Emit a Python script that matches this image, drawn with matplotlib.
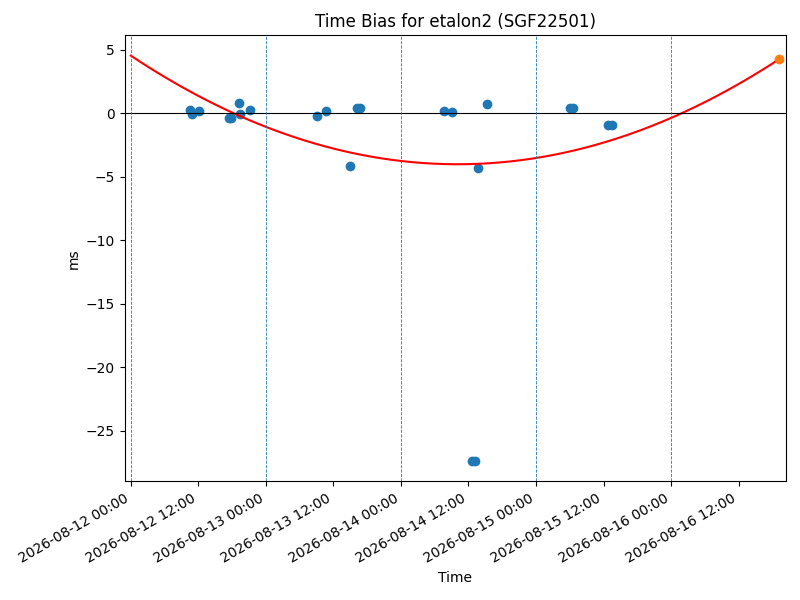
import numpy as np
import pandas as pd
import matplotlib
matplotlib.use("Agg")
import matplotlib.pyplot as plt
import matplotlib.dates as mdates

# observed time bias (ms)
obs_times = [
    "2026-08-12 10:26", "2026-08-12 10:54", "2026-08-12 12:09",
    "2026-08-12 17:28", "2026-08-12 17:46", "2026-08-12 19:12",
    "2026-08-12 19:26", "2026-08-12 21:13",
    "2026-08-13 09:07", "2026-08-13 10:39", "2026-08-13 14:56",
    "2026-08-13 16:13", "2026-08-13 16:48",
    "2026-08-14 07:39", "2026-08-14 09:07", "2026-08-14 12:40",
    "2026-08-14 13:05", "2026-08-14 13:45", "2026-08-14 15:22",
    "2026-08-15 06:03", "2026-08-15 06:39", "2026-08-15 12:50",
    "2026-08-15 13:26",
]
obs_bias = [
    0.31, -0.03, 0.16,
    -0.35, -0.35, 0.79,
    -0.03, 0.24,
    -0.18, 0.16, -4.16,
    0.45, 0.45,
    0.16, 0.08, -27.36,
    -27.36, -4.32, 0.71,
    0.45, 0.45, -0.89,
    -0.89,
]

# quadratic fit (days since start -> ms)
fit_start = "2026-08-12 00:00"
fit_end = "2026-08-16 19:12"
fit_coeffs = [1.46, -7.066, 4.55]

# predicted point at end of fit
pred_time = "2026-08-16 19:12"
pred_bias = 4.30

day_lines = ["2026-08-12", "2026-08-13", "2026-08-14", "2026-08-15", "2026-08-16"]

t_obs = pd.to_datetime(obs_times)
t0 = pd.Timestamp(fit_start)
t_fit = pd.date_range(fit_start, fit_end, periods=300)
days = (t_fit - t0) / pd.Timedelta(days=1)
y_fit = np.polyval(fit_coeffs, days)

fig, ax = plt.subplots(figsize=(8, 6), dpi=100)

ax.plot(t_obs, obs_bias, 'o', color='C0')
ax.plot(t_fit, y_fit, color='red')
ax.plot(pd.Timestamp(pred_time), pred_bias, 'o', color='C1')
ax.axhline(0, color='k', lw=0.8)
for d in day_lines:
    ax.axvline(pd.Timestamp(d), color='C0', ls='--', lw=0.6)

ax.set_xlim(pd.Timestamp("2026-08-11 22:56"), pd.Timestamp("2026-08-16 20:21"))
ax.xaxis.set_major_locator(mdates.HourLocator(byhour=[0, 12]))
ax.xaxis.set_major_formatter(mdates.DateFormatter("%Y-%m-%d %H:%M"))
fig.autofmt_xdate()
fig.subplots_adjust(left=0.156, right=0.982, top=0.941, bottom=0.198)

ax.set_title("Time Bias for etalon2 (SGF22501)")
ax.set_xlabel("Time")
ax.set_ylabel("ms")

fig.savefig("out.png")
